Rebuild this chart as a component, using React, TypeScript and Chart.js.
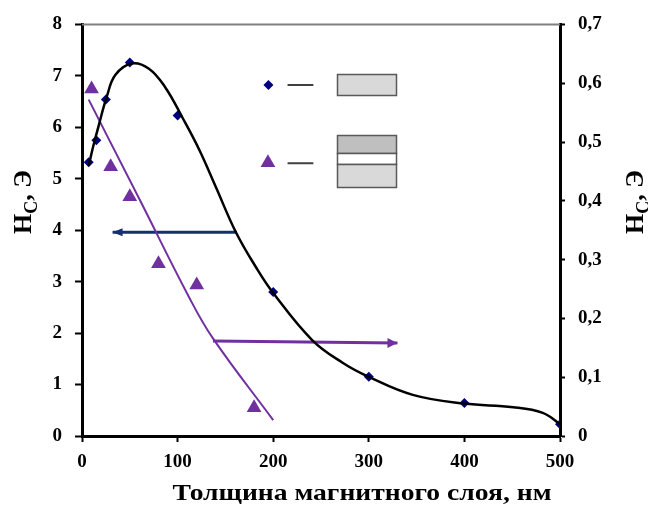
import { useEffect, useRef } from "react";
import { Chart, registerables } from "chart.js";

Chart.register(...registerables);

// ---- data ----
const xTicks = [0, 100, 200, 300, 400, 500];
const leftTicks = [0, 1, 2, 3, 4, 5, 6, 7, 8];
const rightTicks = [0, 0.1, 0.2, 0.3, 0.4, 0.5, 0.6, 0.7];

const diamondX = [7, 15, 25, 50, 100, 200, 300, 400, 500];
const diamondY = [5.32, 5.75, 6.54, 7.26, 6.23, 2.8, 1.15, 0.64, 0.23];

const curveX = [7, 12, 17, 26, 35, 52, 70, 87, 105, 123, 140, 161, 182, 200, 241, 273, 300, 346, 400, 451, 482, 500];
const curveY = [5.25, 5.65, 6.0, 6.6, 7.02, 7.24, 7.14, 6.78, 6.19, 5.55, 4.84, 3.96, 3.28, 2.78, 1.86, 1.42, 1.15, 0.8, 0.63, 0.56, 0.45, 0.23];

const triangleX = [10, 30, 50, 80, 120, 180];
const triangleY = [0.59, 0.458, 0.407, 0.293, 0.257, 0.048];

const fitX = [7, 60, 112, 137, 200];
const fitY = [0.572, 0.403, 0.236, 0.166, 0.027];

const navyArrowX = [162, 32];
const navyArrowY = [3.96, 3.96];
const purpleArrowX = [137, 330];
const purpleArrowY = [0.1614, 0.158];

// legend-like key (data coordinates)
const keyDiamond = { x: 195, y: 6.82 };
const keyTriangle = { x: 194.5, y: 5.31 };
const keyDashX = [215, 242];
const keyRect1 = { x0: 266.5, x1: 328.5, y0: 7.03, y1: 6.62 };
const keyRect2 = { x0: 266.5, x1: 328.5, yTop: 5.86, yMid1: 5.51, yMid2: 5.28, yBot: 4.83 };

const NAVY = "#000080";
const PURPLE = "#7030a0";
const ARROW_NAVY = "#14306e";
const SERIF = '"Liberation Serif", "Times New Roman", serif';
const X_TITLE = "Толщина магнитного слоя, нм";

const zip = (xs: number[], ys: number[]) => xs.map((x, i) => ({ x, y: ys[i] }));

const overlayPlugin = {
  id: "overlay",
  afterDatasetsDraw(chart: any) {
    const { ctx, chartArea, scales } = chart;
    const x = scales.x, yl = scales.y;
    ctx.save();
    // top border
    ctx.strokeStyle = "#808080";
    ctx.lineWidth = 2;
    ctx.beginPath();
    ctx.moveTo(chartArea.left, chartArea.top);
    ctx.lineTo(chartArea.right, chartArea.top);
    ctx.stroke();

    // key rectangles
    const rect = (x0: number, x1: number, y0: number, y1: number, fill: string) => {
      const px0 = Math.round(x.getPixelForValue(x0)) + 0.5;
      const px1 = Math.round(x.getPixelForValue(x1)) + 0.5;
      const py0 = Math.round(yl.getPixelForValue(y0)) + 0.5;
      const py1 = Math.round(yl.getPixelForValue(y1)) + 0.5;
      ctx.fillStyle = fill;
      ctx.fillRect(px0, py0, px1 - px0, py1 - py0);
      ctx.strokeStyle = "#595959";
      ctx.lineWidth = 1.5;
      ctx.strokeRect(px0, py0, px1 - px0, py1 - py0);
    };
    rect(keyRect1.x0, keyRect1.x1, keyRect1.y0, keyRect1.y1, "#d9d9d9");
    rect(keyRect2.x0, keyRect2.x1, keyRect2.yTop, keyRect2.yMid1, "#bfbfbf");
    rect(keyRect2.x0, keyRect2.x1, keyRect2.yMid1, keyRect2.yMid2, "#ffffff");
    rect(keyRect2.x0, keyRect2.x1, keyRect2.yMid2, keyRect2.yBot, "#d9d9d9");

    // arrowheads
    chart.data.datasets.forEach((ds: any, i: number) => {
      if (!ds.arrowHead) return;
      const meta = chart.getDatasetMeta(i);
      const pts = meta.data;
      const a = pts[pts.length - 2], b = pts[pts.length - 1];
      const ang = Math.atan2(b.y - a.y, b.x - a.x);
      const len = ds.arrowHead.len, hw = ds.arrowHead.hw;
      ctx.fillStyle = ds.borderColor;
      ctx.beginPath();
      ctx.moveTo(b.x, b.y);
      ctx.lineTo(b.x - len * Math.cos(ang) + hw * Math.sin(ang), b.y - len * Math.sin(ang) - hw * Math.cos(ang));
      ctx.lineTo(b.x - len * Math.cos(ang) - hw * Math.sin(ang), b.y - len * Math.sin(ang) + hw * Math.cos(ang));
      ctx.closePath();
      ctx.fill();
    });

    // axis titles
    ctx.fillStyle = "#000";
    const drawYTitle = (cx: number, cy: number) => {
      ctx.save();
      ctx.translate(cx, cy);
      ctx.rotate(-Math.PI / 2);
      ctx.textBaseline = "alphabetic";
      ctx.textAlign = "left";
      const big = `bold 26px ${SERIF}`;
      const small = `bold 18px ${SERIF}`;
      ctx.font = big;
      const wH = ctx.measureText("H").width;
      const wRest = ctx.measureText(", Э").width;
      ctx.font = small;
      const wC = ctx.measureText("C").width;
      const total = wH + wC + wRest;
      let px = -total / 2;
      const base = 9;
      ctx.font = big;
      ctx.fillText("H", px, base);
      px += wH;
      ctx.font = small;
      ctx.fillText("C", px, base + 6);
      px += wC;
      ctx.font = big;
      ctx.fillText(", Э", px, base);
      ctx.restore();
    };
    drawYTitle(22, 202);
    drawYTitle(634, 202);

    // x title (glyphs are horizontally wide in the reference)
    ctx.save();
    ctx.font = `bold 23px ${SERIF}`;
    ctx.textAlign = "left";
    ctx.textBaseline = "alphabetic";
    const tw = ctx.measureText(X_TITLE).width;
    const sx = 379 / tw;
    ctx.translate(362 - 379 / 2, 500);
    ctx.scale(sx, 1);
    ctx.fillText(X_TITLE, 0, 0);
    ctx.restore();
    ctx.restore();
  },
};

export default function App() {
  const ref = useRef<HTMLCanvasElement>(null);
  useEffect(() => {
    if (!ref.current) return;
    const tickFont = { family: SERIF, size: 19, weight: "bold" as const };
    const chart = new Chart(ref.current, {
      type: "scatter",
      data: {
        datasets: [
          {
            label: "fit-black",
            type: "line",
            data: zip(curveX, curveY),
            yAxisID: "y",
            borderColor: "#000",
            borderWidth: 2.5,
            pointRadius: 0,
            tension: 0.4,
            fill: false,
          } as any,
          {
            label: "fit-purple",
            type: "line",
            data: zip(fitX, fitY),
            yAxisID: "y1",
            borderColor: PURPLE,
            borderWidth: 2,
            pointRadius: 0,
            tension: 0.4,
            fill: false,
          } as any,
          {
            label: "navy arrow",
            type: "line",
            data: zip(navyArrowX, navyArrowY),
            yAxisID: "y",
            borderColor: ARROW_NAVY,
            borderWidth: 3,
            pointRadius: 0,
            arrowHead: { len: 10, hw: 4 },
          } as any,
          {
            label: "purple arrow",
            type: "line",
            data: zip(purpleArrowX, purpleArrowY),
            yAxisID: "y1",
            borderColor: PURPLE,
            borderWidth: 3,
            pointRadius: 0,
            arrowHead: { len: 10, hw: 5 },
          } as any,
          {
            label: "diamonds",
            data: zip(diamondX, diamondY),
            yAxisID: "y",
            pointStyle: "rectRot",
            pointRadius: 5,
            backgroundColor: NAVY,
            borderColor: NAVY,
            borderWidth: 0,
          } as any,
          {
            label: "triangles",
            data: zip(triangleX, triangleY),
            yAxisID: "y1",
            pointStyle: "triangle",
            pointRadius: 8.5,
            backgroundColor: PURPLE,
            borderColor: PURPLE,
            borderWidth: 0,
          } as any,
          {
            label: "key diamond",
            data: [keyDiamond],
            yAxisID: "y",
            pointStyle: "rectRot",
            pointRadius: 5,
            backgroundColor: NAVY,
            borderWidth: 0,
          } as any,
          {
            label: "key triangle",
            data: [keyTriangle],
            yAxisID: "y",
            pointStyle: "triangle",
            pointRadius: 8.5,
            backgroundColor: PURPLE,
            borderWidth: 0,
          } as any,
          {
            label: "key dash 1",
            type: "line",
            data: keyDashX.map((xv) => ({ x: xv, y: keyDiamond.y })),
            yAxisID: "y",
            borderColor: "#404040",
            borderWidth: 2,
            pointRadius: 0,
          } as any,
          {
            label: "key dash 2",
            type: "line",
            data: keyDashX.map((xv) => ({ x: xv, y: keyTriangle.y - 0.01 })),
            yAxisID: "y",
            borderColor: "#404040",
            borderWidth: 2,
            pointRadius: 0,
          } as any,
        ],
      },
      options: {
        animation: false,
        responsive: false,
        maintainAspectRatio: false,
        layout: { padding: { top: 24, left: 0, right: 0, bottom: 0 } },
        plugins: { legend: { display: false }, tooltip: { enabled: false } },
        scales: {
          x: {
            type: "linear",
            min: 0,
            max: 500,
            afterBuildTicks: (s: any) => {
              s.ticks = xTicks.map((v) => ({ value: v }));
            },
            afterFit: (s: any) => {
              s.height = 70;
            },
            border: { color: "#000", width: 3 },
            grid: { drawOnChartArea: false, tickLength: 6, tickColor: "#000", tickWidth: 2 },
            ticks: { font: tickFont, color: "#000", padding: 9, maxRotation: 0 },
          },
          y: {
            position: "left",
            min: 0,
            max: 8,
            afterBuildTicks: (s: any) => {
              s.ticks = leftTicks.map((v) => ({ value: v }));
            },
            afterFit: (s: any) => {
              s.width = 82;
            },
            border: { color: "#000", width: 3 },
            grid: { drawOnChartArea: false, tickLength: 7, tickColor: "#000", tickWidth: 2 },
            ticks: { font: tickFont, color: "#000", padding: 13 },
          },
          y1: {
            position: "right",
            min: 0,
            max: 0.7,
            afterBuildTicks: (s: any) => {
              s.ticks = rightTicks.map((v) => ({ value: v }));
            },
            afterFit: (s: any) => {
              s.width = 88;
            },
            border: { color: "#000", width: 3 },
            grid: { drawOnChartArea: false, tickLength: 5, tickColor: "#000", tickWidth: 2 },
            ticks: {
              font: tickFont,
              color: "#000",
              padding: 13,
              callback: (v: any) => (Number(v) === 0 ? "0" : Number(v).toFixed(1).replace(".", ",")),
            },
          },
        },
      } as any,
      plugins: [overlayPlugin],
    });
    return () => chart.destroy();
  }, []);

  return (
    <div style={{ position: "absolute", left: 0, top: 0, width: 648, height: 506, background: "#fff" }}>
      <canvas ref={ref} width={648} height={506} style={{ display: "block" }} />
    </div>
  );
}
